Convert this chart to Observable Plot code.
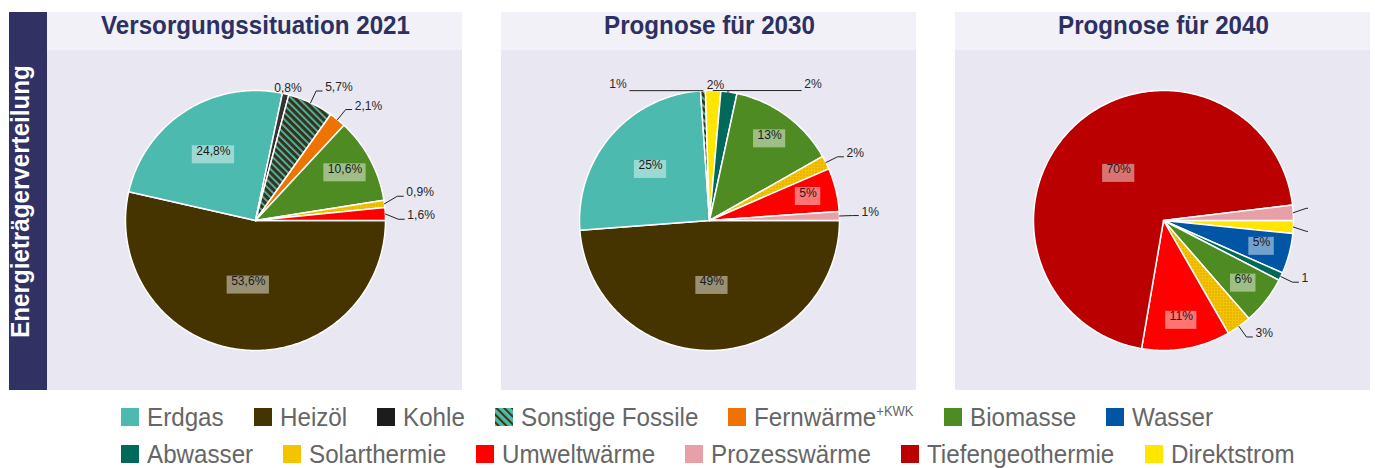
<!DOCTYPE html>
<html><head><meta charset="utf-8">
<script src="https://cdn.jsdelivr.net/npm/d3@7"></script>
<script src="https://cdn.jsdelivr.net/npm/@observablehq/plot@0.6"></script>
<style>
body{margin:0;background:#fff;}
#chart{width:1375px;height:468px;position:relative;overflow:hidden;background:#fff}
.legend{font-family:'Liberation Sans',Arial,sans-serif;font-size:26px;color:#666;line-height:37.4px;padding-left:121px;padding-top:3.6px}
.legend .row{display:flex;white-space:nowrap;height:37.4px}
.legend .item{display:inline-flex;align-items:baseline;margin-right:30px}
.legend .sw{display:inline-block;width:18px;height:18px;margin-right:8px}
.legend .lab{display:inline-block;white-space:nowrap}
.legend .inner{display:inline-block;transform-origin:0 0;white-space:nowrap}
.legend sup{font-size:14px;vertical-align:0;position:relative;top:-10px}
</style></head>
<body><div id="chart"></div>
<script>
const FONT = "'Liberation Sans',Arial,sans-serif";

// ---------- data ----------
const scenarios = ["2021", "2030", "2040"];
const titles = ["Versorgungssituation 2021", "Prognose für 2030", "Prognose für 2040"];
const sideLabel = "Energieträgerverteilung";
const categories = ["Erdgas","Heizöl","Kohle","Sonstige Fossile","Fernwärme","Biomasse","Wasser",
  "Abwasser","Solarthermie","Umweltwärme","Prozesswärme","Tiefengeothermie","Direktstrom"];
const legendSuffix = {"Fernwärme": "+KWK"};
// slices listed clockwise starting at 3 o'clock
const slices2021 = ["Heizöl","Erdgas","Kohle","Sonstige Fossile","Fernwärme","Biomasse","Solarthermie","Umweltwärme"];
const values2021 = [53.6, 24.8, 0.8, 5.7, 2.1, 10.6, 0.9, 1.6];
const slices2030 = ["Heizöl","Erdgas","Sonstige Fossile","Direktstrom","Abwasser","Biomasse","Solarthermie","Umweltwärme","Prozesswärme"];
const values2030 = [48.8, 25.1, 0.6, 1.9, 2.0, 13.4, 1.7, 5.4, 1.1];
const slices2040 = ["Direktstrom","Wasser","Abwasser","Biomasse","Solarthermie","Umweltwärme","Tiefengeothermie","Prozesswärme"];
const values2040 = [1.6, 5.0, 1.0, 6.0, 3.1, 11.0, 70.4, 1.9];
const labelDecimals = [1, 0, 0];

// ---------- styles ----------
const colors = ["#4dbab0","#463400","#1c1c1c","#4dbab0","#ef7300","#4e8b22","#0055a5",
  "#00695a","#f5c400","#ff0000","#e8a0a8","#ba0000","#ffe500"];
const pieFills = categories.map((c, i) =>
  c === "Sonstige Fossile" ? "url(#hatchPie)" :
  c === "Solarthermie" ? "url(#dotsSolar)" :
  c === "Kohle" ? "#333333" : colors[i]);
const legendFills = categories.map((c, i) => c === "Sonstige Fossile" ? "url(#hatchLegend)" : colors[i]);
const patterned = new Set(["Sonstige Fossile"]);
const clipLabels = [false, false, true];
const legendRow1 = 7;

const R = 130, LABEL_SIZE = 13, LABEL_H = 14, SQUEEZE = 0.93;

const ctx = document.createElement("canvas").getContext("2d");
function textWidth(s, size, weight = "normal") { ctx.font = `${weight} ${size}px ${FONT}`; return ctx.measureText(s).width * SQUEEZE; }

const series = [[slices2021, values2021], [slices2030, values2030], [slices2040, values2040]];
const pie = d3.pie().sort(null).value(d => d.value).startAngle(Math.PI / 2).endAngle(Math.PI / 2 + 2 * Math.PI);

const slicePts = [], inLabels = [], outLabels = [], leaders = [];

function resolve(labels) {
  for (let it = 0; it < 400; it++) {
    let moved = false;
    for (let i = 0; i < labels.length; i++) for (let j = i + 1; j < labels.length; j++) {
      const A = labels[i], B = labels[j];
      const bothTop = A.kind === "top" && B.kind === "top";
      const gx = bothTop ? 80 : 2, gy = bothTop ? 2 : 9;
      const ox = (A.w + B.w) / 2 + gx - Math.abs(A.tx - B.tx);
      const oy = LABEL_H + gy - Math.abs(A.ty - B.ty);
      if (ox > 0.01 && oy > 0.01) {
        moved = true;
        if (bothTop) { const s = A.tx <= B.tx ? 1 : -1; A.tx -= s * ox / 2; B.tx += s * ox / 2; }
        else { const s = A.ty >= B.ty ? 1 : -1; A.ty += s * oy / 2; B.ty -= s * oy / 2; }
      }
    }
    if (!moved) break;
  }
}

series.forEach(([cats, vals], si) => {
  const scen = scenarios[si];
  const total = d3.sum(vals);
  const fmt = v => d3.format(`.${labelDecimals[si]}f`)(v).replace(".", ",") + "%";
  const arcs = pie(cats.map((c, i) => ({category: c, value: vals[i]})));
  const outs = [];
  arcs.forEach((a, i) => {
    const key = scen + "-" + i, cat = a.data.category;
    const n = Math.max(2, Math.ceil((a.endAngle - a.startAngle) / (Math.PI / 180)));
    slicePts.push({scenario: scen, key, category: cat, x: 0, y: 0});
    for (let k = 0; k <= n; k++) {
      const t = a.startAngle + (a.endAngle - a.startAngle) * k / n;
      slicePts.push({scenario: scen, key, category: cat, x: R * Math.sin(t), y: R * Math.cos(t)});
    }
    slicePts.push({scenario: scen, key, category: cat, x: 0, y: 0});

    const mid = (a.startAngle + a.endAngle) / 2, sn = Math.sin(mid), cs = Math.cos(mid);
    const text = fmt(a.data.value);
    const w = textWidth(text, LABEL_SIZE);
    const share = a.data.value / total;
    if (a.data.value >= 5 && !patterned.has(cat)) {
      const f = share >= 0.4 ? 0.5 : share >= 0.2 ? 0.6 : 0.78;
      inLabels.push({scenario: scen, text, x: f * R * sn, y: f * R * cs, w});
    } else {
      const kind = Math.abs(sn) < 0.3 ? "top" : "side";
      const ex = R * sn, ey = R * cs;
      const elx = 1.1 * R * sn, ely = 1.1 * R * cs, s = sn >= 0 ? 1 : -1;
      let tx, ty;
      if (kind === "top") { tx = 1.08 * R * sn; ty = 1.02 * R * cs; }
      else { tx = elx + s * (9 + w / 2); ty = ely; }
      outs.push({scenario: scen, si, key, text, w, kind, ex, ey, elx, ely, s, tx, ty, tx0: tx});
    }
  });
  resolve(outs);
  outs.forEach(o => {
    outLabels.push(o);
    if (o.kind === "side") {
      leaders.push({scenario: o.scenario, si, key: o.key, x: o.ex, y: o.ey});
      leaders.push({scenario: o.scenario, si, key: o.key, x: o.elx, y: o.ty});
      leaders.push({scenario: o.scenario, si, key: o.key, x: o.elx + o.s * 6, y: o.ty});
    } else if (Math.abs(o.tx - o.tx0) > 3) {
      const d = o.tx < o.ex ? 1 : -1;
      leaders.push({scenario: o.scenario, si, key: o.key, x: o.ex, y: o.ey});
      leaders.push({scenario: o.scenario, si, key: o.key, x: o.tx + d * (o.w / 2 + 3), y: o.ey});
    }
  });
});

const panelData = scenarios.map((s, i) => ({scenario: s, title: titles[i]}));

const labelMarks = [];
[false, true].forEach(clip => {
  const keep = d => clipLabels[d.si] === clip;
  labelMarks.push(Plot.line(leaders.filter(keep), {fx: "scenario", x: "x", y: "y", z: "key", stroke: "#222", strokeWidth: 1, curve: "linear", clip}));
  labelMarks.push(Plot.text(outLabels.filter(keep), {fx: "scenario", x: "tx", y: "ty", text: "text", fontSize: LABEL_SIZE, fontFamily: FONT, fill: "#262626", clip}));
});

const plot = Plot.plot({
  width: 1375, height: 395,
  marginTop: 12, marginBottom: 5, marginLeft: 109, marginRight: 67,
  fx: {domain: scenarios, paddingInner: 0.362, paddingOuter: 0, axis: null, label: null},
  x: {domain: [-145, 145], axis: null},
  y: {domain: [-170, 208], axis: null},
  color: {domain: categories, range: pieFills},
  style: {fontFamily: FONT, background: "transparent", overflow: "visible"},
  marks: [
    Plot.rect(panelData, {fx: "scenario", x1: -208, x2: 207, y1: -170, y2: 170, fill: "#e9e8f2"}),
    Plot.rect(panelData, {fx: "scenario", x1: -208, x2: 207, y1: 170, y2: 208, fill: "#f2f1f7"}),
    Plot.rect(panelData.slice(0, 1), {fx: "scenario", x1: -246, x2: -208, y1: -170, y2: 208, fill: "#313263"}),
    Plot.text(panelData.slice(0, 1), {fx: "scenario", x: -227, y: 19, text: () => sideLabel, rotate: -90, fill: "white", fontWeight: "bold", fontSize: 26, fontFamily: FONT}),
    Plot.text(panelData, {fx: "scenario", x: 0, y: 187, text: "title", fill: "#2d3062", fontWeight: "bold", fontSize: 26, fontFamily: FONT}),
    Plot.line(slicePts, {fx: "scenario", x: "x", y: "y", z: "key", fill: "category", stroke: "white", strokeWidth: 1.5, curve: "linear"}),
    Plot.rect(inLabels, {fx: "scenario", x1: d => d.x - d.w / 2 - 4, x2: d => d.x + d.w / 2 + 4, y1: d => d.y - 9, y2: d => d.y + 9, fill: "white", fillOpacity: 0.45}),
    Plot.text(inLabels, {fx: "scenario", x: "x", y: "y", text: "text", fontSize: LABEL_SIZE, fontFamily: FONT, fill: "#1a1a1a"}),
    ...labelMarks
  ]
});

const svgNode = plot.tagName.toLowerCase() === "svg" ? plot : plot.querySelector("svg");
const svg = d3.select(svgNode);
// slight horizontal condensing of all texts (the source uses a narrow face)
svg.selectAll("text").each(function () {
  const x = +this.getAttribute("x") || 0, y = +this.getAttribute("y") || 0;
  const tr = this.getAttribute("transform") || "";
  this.removeAttribute("x"); this.removeAttribute("y");
  this.setAttribute("transform", `${tr} translate(${x},${y}) scale(${SQUEEZE},1)`);
});
const defs = svg.insert("defs", ":first-child");
const hp = defs.append("pattern").attr("id", "hatchPie").attr("patternUnits", "userSpaceOnUse")
  .attr("width", 5).attr("height", 5).attr("patternTransform", "rotate(-45)");
hp.append("rect").attr("width", 5).attr("height", 5).attr("fill", "#3a3218");
hp.append("rect").attr("width", 1.8).attr("height", 5).attr("fill", "#4dbab0");
const hl = defs.append("pattern").attr("id", "hatchLegend").attr("patternUnits", "userSpaceOnUse")
  .attr("width", 5.5).attr("height", 5.5).attr("patternTransform", "rotate(-45)");
hl.append("rect").attr("width", 5.5).attr("height", 5.5).attr("fill", "#4dbab0");
hl.append("rect").attr("width", 2).attr("height", 5.5).attr("fill", "#463400");
const dp = defs.append("pattern").attr("id", "dotsSolar").attr("patternUnits", "userSpaceOnUse")
  .attr("width", 3).attr("height", 3);
dp.append("rect").attr("width", 3).attr("height", 3).attr("fill", "#f5c400");
dp.append("rect").attr("width", 1).attr("height", 1).attr("fill", "#c08a00");

const chart = document.getElementById("chart");
chart.appendChild(plot);

const legend = d3.select(chart).append("div").attr("class", "legend");
[categories.slice(0, legendRow1), categories.slice(legendRow1)].forEach(rowCats => {
  const row = legend.append("div").attr("class", "row");
  rowCats.forEach(c => {
    const i = categories.indexOf(c);
    const item = row.append("span").attr("class", "item");
    const sw = item.append("svg").attr("class", "sw").attr("width", 18).attr("height", 18);
    sw.append("rect").attr("width", 18).attr("height", 18).attr("fill", legendFills[i]);
    const lab = item.append("span").attr("class", "lab");
    const inner = lab.append("span").attr("class", "inner").text(c);
    if (legendSuffix[c]) inner.append("sup").text(legendSuffix[c]);
    const w = inner.node().getBoundingClientRect().width;
    inner.style("transform", `scaleX(${SQUEEZE})`);
    lab.style("width", `${w * SQUEEZE}px`);
  });
});
</script>
</body></html>
